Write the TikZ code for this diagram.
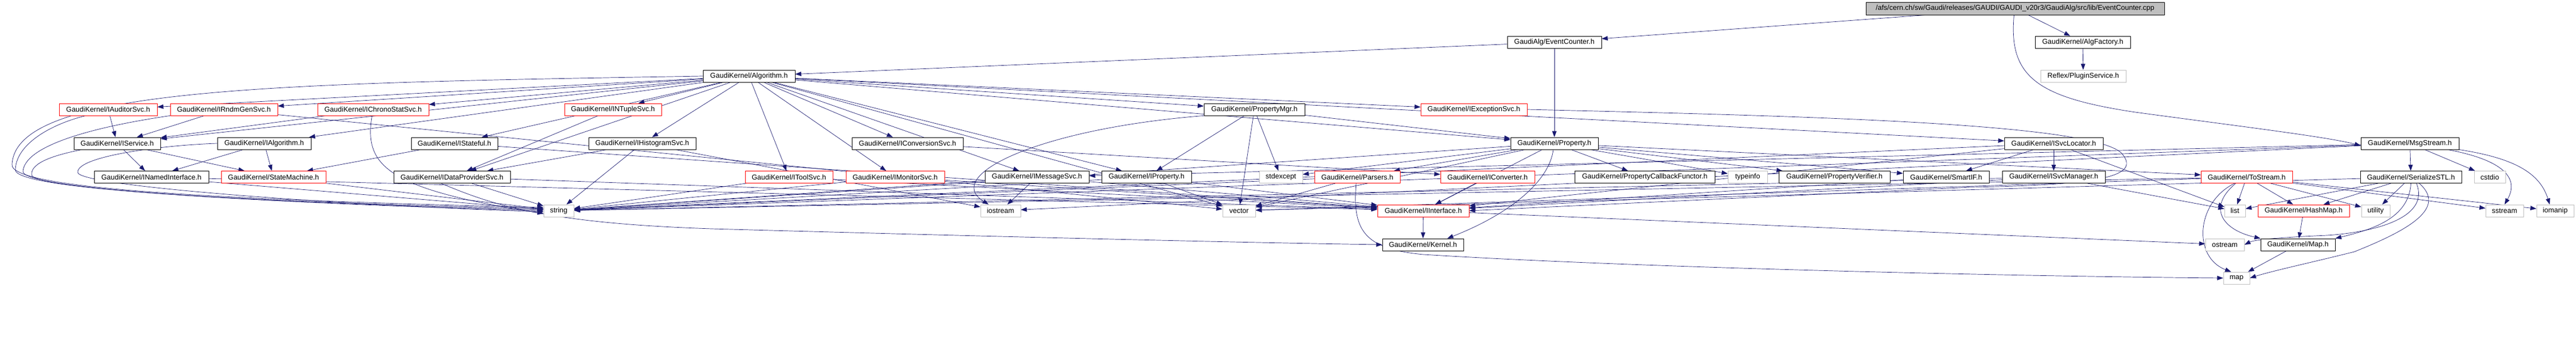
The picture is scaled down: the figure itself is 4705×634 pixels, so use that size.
\documentclass[tikz,border=0pt]{standalone}
\usepackage{fontspec}
\setmainfont{Liberation Sans}
\usetikzlibrary{arrows.meta}
\pgfdeclarelayer{bg}
\pgfsetlayers{bg,main}
\definecolor{navy}{RGB}{25,25,112}
\definecolor{gbord}{RGB}{191,191,191}
\definecolor{rootfill}{RGB}{191,191,191}
\newcommand\mknode[6]{%
 \pgfmathsetmacro\mkcx{(#2+#3)/2}%
 \pgfmathsetmacro\mkw{#3-#2}%
 \node[#5, minimum width=\mkw pt] (#1) at (\mkcx,#4) {#6};}
\begin{document}
\begin{tikzpicture}[x=1pt,y=-1pt,
  box/.style={draw=black, fill=white, line width=0.8pt, minimum height=22pt, inner sep=0pt, font=\fontsize{13}{15}\selectfont},
  rbox/.style={box, draw=red},
  gbox/.style={box, draw=gbord},
  rootb/.style={box, fill=rootfill, minimum height=23pt},
  edg/.style={draw=navy, line width=0.7pt, -{Triangle[length=11pt,width=8pt]}}]
\useasboundingbox (0,0) rectangle (4705,634);
\begin{pgfonlayer}{bg}
\fill[white] (0,0) rectangle (4705,634);
\end{pgfonlayer}
% nodes
\mknode{root}{3408}{3953}{15.5}{rootb}{/afs/cern.ch/sw/Gaudi/releases/GAUDI/GAUDI\_v20r3/GaudiAlg/src/lib/EventCounter.cpp}
\mknode{evc}{2753}{2925}{77}{box}{GaudiAlg/EventCounter.h}
\mknode{algf}{3717}{3891}{77}{box}{GaudiKernel/AlgFactory.h}
\mknode{alg}{1284}{1452}{139}{box}{GaudiKernel/Algorithm.h}
\mknode{refl}{3727}{3883}{139}{gbox}{Reflex/PluginService.h}
\mknode{iaud}{108}{287}{200}{rbox}{GaudiKernel/IAuditorSvc.h}
\mknode{irnd}{311}{507}{200}{rbox}{GaudiKernel/IRndmGenSvc.h}
\mknode{ichr}{580}{783}{200}{rbox}{GaudiKernel/IChronoStatSvc.h}
\mknode{intp}{1031}{1208}{200}{rbox}{GaudiKernel/INTupleSvc.h}
\mknode{pmgr}{2199}{2383}{200}{box}{GaudiKernel/PropertyMgr.h}
\mknode{iexc}{2595}{2789}{200}{rbox}{GaudiKernel/IExceptionSvc.h}
\mknode{isrv}{135}{293}{262}{box}{GaudiKernel/IService.h}
\mknode{ialg}{397}{568}{262}{box}{GaudiKernel/IAlgorithm.h}
\mknode{istf}{751}{909}{262}{box}{GaudiKernel/IStateful.h}
\mknode{ihis}{1075}{1271}{262}{box}{GaudiKernel/IHistogramSvc.h}
\mknode{icnv}{1556}{1759}{262}{box}{GaudiKernel/IConversionSvc.h}
\mknode{prop}{2759}{2919}{262}{box}{GaudiKernel/Property.h}
\mknode{isvl}{3661}{3841}{262}{box}{GaudiKernel/ISvcLocator.h}
\mknode{msgs}{4312}{4491}{262}{box}{GaudiKernel/MsgStream.h}
\mknode{inam}{172}{381}{323.5}{box}{GaudiKernel/INamedInterface.h}
\mknode{stm}{404}{595}{323.5}{rbox}{GaudiKernel/StateMachine.h}
\mknode{idps}{719}{932}{323.5}{box}{GaudiKernel/IDataProviderSvc.h}
\mknode{itool}{1361}{1521}{323.5}{rbox}{GaudiKernel/IToolSvc.h}
\mknode{imon}{1545}{1725}{323.5}{rbox}{GaudiKernel/IMonitorSvc.h}
\mknode{imsg}{1799}{1989}{323.5}{box}{GaudiKernel/IMessageSvc.h}
\mknode{iprop}{2012}{2176}{323.5}{box}{GaudiKernel/IProperty.h}
\mknode{stdx}{2300}{2379}{323.5}{gbox}{stdexcept}
\mknode{pars}{2401}{2557}{323.5}{rbox}{GaudiKernel/Parsers.h}
\mknode{icnvr}{2631}{2803}{323.5}{rbox}{GaudiKernel/IConverter.h}
\mknode{pcbf}{2876}{3132}{323.5}{box}{GaudiKernel/PropertyCallbackFunctor.h}
\mknode{tinfo}{3156}{3228}{323.5}{gbox}{typeinfo}
\mknode{pver}{3249}{3452}{323.5}{box}{GaudiKernel/PropertyVerifier.h}
\mknode{smif}{3476}{3633}{323.5}{box}{GaudiKernel/SmartIF.h}
\mknode{isvm}{3657}{3845}{323.5}{box}{GaudiKernel/ISvcManager.h}
\mknode{tost}{4020}{4187}{323.5}{rbox}{GaudiKernel/ToStream.h}
\mknode{sstl}{4311}{4496}{323.5}{box}{GaudiKernel/SerializeSTL.h}
\mknode{cstd}{4519}{4576}{323.5}{gbox}{cstdio}
\mknode{str}{993}{1048}{385}{gbox}{string}
\mknode{iost}{1791}{1864}{385}{gbox}{iostream}
\mknode{vec}{2233}{2293}{385}{gbox}{vector}
\mknode{iint}{2516}{2683}{385}{rbox}{GaudiKernel/IInterface.h}
\mknode{lst}{4063}{4101}{385}{gbox}{list}
\mknode{hmap}{4124}{4291}{385}{rbox}{GaudiKernel/HashMap.h}
\mknode{util}{4313}{4365}{385}{gbox}{utility}
\mknode{sstr}{4540}{4609}{385}{gbox}{sstream}
\mknode{ioma}{4633}{4701}{385}{gbox}{iomanip}
\mknode{kern}{2525}{2673}{447}{box}{GaudiKernel/Kernel.h}
\mknode{ostr}{4028}{4099}{447}{gbox}{ostream}
\mknode{mapH}{4129}{4265}{447}{box}{GaudiKernel/Map.h}
\mknode{map}{4061}{4109}{508}{gbox}{map}
% edges
\begin{pgfonlayer}{bg}
\foreach \a/\b in {root/evc, root/algf, algf/refl, evc/alg, evc/prop,
 alg/iprop, alg/ialg, alg/isrv, alg/pmgr, alg/isvl, alg/imsg, alg/vec, alg/idps, alg/ihis, alg/icnv,
 alg/intp, alg/ichr, alg/irnd, alg/iaud, alg/itool, alg/imon, alg/iexc, alg/prop, alg/istf,
 iaud/isrv, irnd/isrv, irnd/vec, ichr/isrv, intp/idps,
 isrv/inam, isrv/stm, ialg/inam, ialg/stm, istf/stm, istf/iint,
 ihis/idps, ihis/str, ihis/iost, icnv/icnvr, idps/iint, idps/str,
 itool/iint, itool/str, imon/iint, imon/str, imsg/iint, imsg/str, imsg/iost,
 iprop/iint, iprop/str, iprop/vec,
 pmgr/iprop, pmgr/prop, pmgr/vec, pmgr/stdx,
 prop/pcbf, prop/tinfo, prop/pver, prop/smif, prop/tost, prop/pars, prop/stdx, prop/iint, prop/str, prop/vec,
 pars/str, pars/vec, icnvr/iint, smif/iint,
 isvl/iint, isvl/isvm, isvl/smif, isvl/str, isvl/lst,
 isvm/iint, isvm/str, isvm/lst,
 msgs/imsg, msgs/sstl, msgs/cstd, msgs/str, msgs/iost,
 sstl/vec, sstl/lst, sstl/util, sstl/hmap,
 tost/lst, tost/hmap, tost/sstr, tost/ioma, tost/util, tost/str, tost/vec,
 hmap/mapH, mapH/map, iint/kern, iint/ostr, inam/iint, inam/str, stm/str}
 \draw[edg] (\a) -- (\b);
% curved edges
\draw[edg] ([xshift=-2pt]root.south) .. controls (3668,140) and (3720,178) .. (3900,205) .. controls (4100,232) and (4250,250) .. ([yshift=-4pt]msgs.west);
\draw[edg] (alg.west) .. controls (500,152) and (30,160) .. (22,300) .. controls (15,345) and (400,365) .. ([yshift=6pt]str.west);
\draw[edg] ([xshift=49pt]iaud.south west) .. controls (100,225) and (30,260) .. (28,310) .. controls (26,345) and (420,368) .. ([yshift=4pt]str.west);
\draw[edg] (irnd.south west) .. controls (150,235) and (45,270) .. (42,313) .. controls (40,345) and (450,370) .. ([yshift=2pt]str.west);
\draw[edg] ([xshift=15pt]isrv.south west) .. controls (90,285) and (55,300) .. (58,320) .. controls (60,345) and (500,372) .. (str.west);
\draw[edg] (ialg.west) .. controls (300,265) and (140,285) .. (142,315) .. controls (144,340) and (600,374) .. ([yshift=-2pt]str.west);
\draw[edg] ([xshift=-2pt]ichr.south) .. controls (665,300) and (700,345) .. ([yshift=-5pt]str.west);
\draw[edg] ([xshift=-20pt]idps.south) .. controls (900,375) and (1000,408) .. (1300,418) .. controls (1800,432) and (2300,444) .. (kern.west);
\draw[edg] ([xshift=-2pt]prop.south) .. controls (2830,330) and (2760,390) .. ([xshift=-30pt]kern.north east);
\draw[edg] ([xshift=-2pt]pars.south) .. controls (2470,420) and (2490,455) .. (2600,465) .. controls (3000,490) and (3700,505) .. (map.west);
\draw[edg] (iexc.east) .. controls (3300,212) and (3820,225) .. (3875,280) .. controls (3910,320) and (3850,338) .. (3600,342) -- (iint.east);
\draw[edg] (pmgr.south west) .. controls (1900,235) and (1720,320) .. ([xshift=15pt]iost.north west);
\draw[edg] ([xshift=-21pt]msgs.south east) .. controls (4560,290) and (4605,320) .. (sstr.north);
\draw[edg] (msgs.south east) .. controls (4600,290) and (4640,320) .. ([xshift=-10pt]ioma.north);
\draw[edg] ([xshift=10pt]sstl.south) .. controls (4440,400) and (4330,425) .. (4250,430) .. controls (4180,433) and (4120,437) .. (ostr.east);
\draw[edg] ([xshift=0pt]sstl.south) .. controls (4400,400) and (4330,420) .. (mapH.north east);
\draw[edg] ([xshift=15pt]sstl.south) .. controls (4470,380) and (4400,420) .. (4300,460) .. controls (4220,480) and (4150,495) .. (map.east);
\draw[edg] ([xshift=-20pt]tost.south) .. controls (4030,380) and (4060,420) .. (mapH.north west);
\draw[edg] ([xshift=-22pt]tost.south) .. controls (4010,370) and (4005,470) .. ([xshift=-10pt]map.north);
\end{pgfonlayer}
\end{tikzpicture}
\end{document}
